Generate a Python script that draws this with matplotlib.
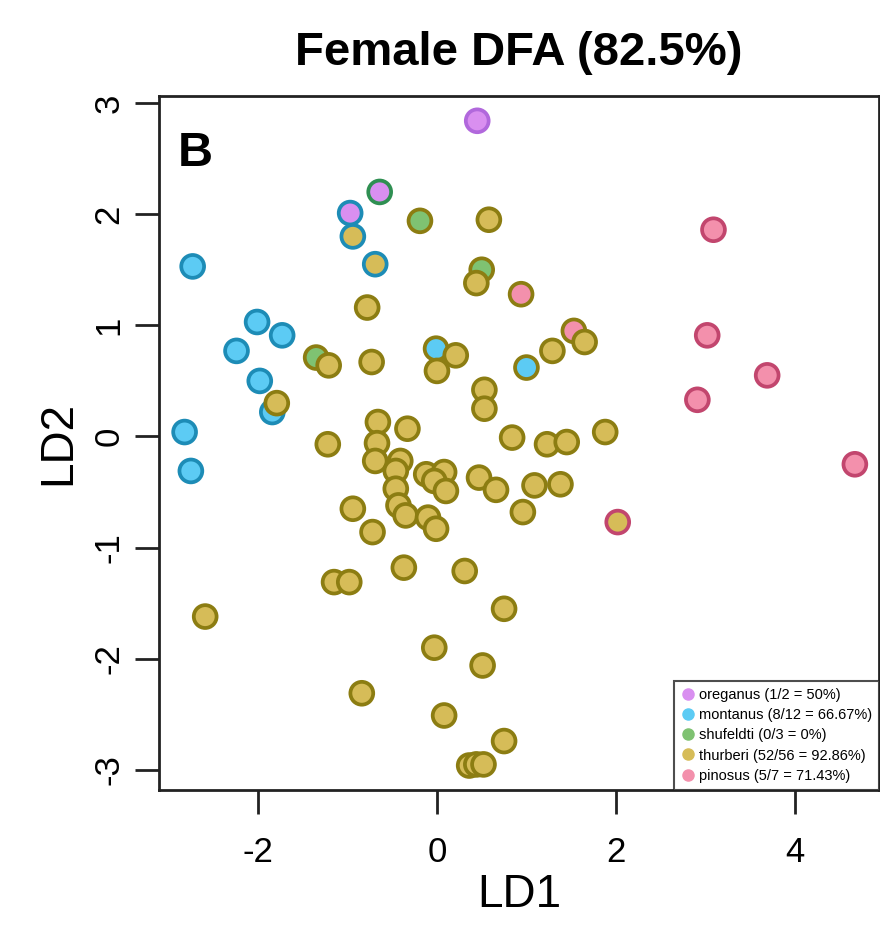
import matplotlib.pyplot as plt
from matplotlib.lines import Line2D

plt.rcParams['font.family'] = ['Liberation Sans', 'DejaVu Sans']
plt.rcParams['axes.unicode_minus'] = False

# species codes and colours (edge = predicted, fill = actual)
species = ['oreganus', 'montanus', 'shufeldti', 'thurberi', 'pinosus']
legend_labels = ['oreganus (1/2 = 50%)', 'montanus (8/12 = 66.67%)', 'shufeldti (0/3 = 0%)',
                 'thurberi (52/56 = 92.86%)', 'pinosus (5/7 = 71.43%)']
edge_colors = {'O': '#b168dc', 'M': '#1d8cb6', 'S': '#2f8f52', 'T': '#8c7d12', 'P': '#c2466e'}
fill_colors = {'O': '#d98ff0', 'M': '#5ccbf4', 'S': '#7fc272', 'T': '#d6bc58', 'P': '#f390ac'}

ld1 = [0.45, -2.73, -0.97, -0.94, -0.69, -2.01, -1.73, -2.24, -1.98, -1.84, -2.82, -2.75,
       -0.64, -0.19, -1.35, 0.50,
       3.09, 3.02, 3.69, 2.91, 4.67, 2.02,
       0.94, 1.53, -0.01, 1.00,
       0.58, 0.44, -0.78, -1.21, -0.73, 0.21, 0.00, 0.53, 1.65, 1.29, 0.53, -1.79,
       0.84, 1.23, 1.45, 1.88, 0.47, 0.66, 1.09, 1.38, 0.96,
       -1.22, -0.66, -0.33, -0.67, -0.69, -0.41, -0.46, -0.12, 0.08, -0.46, -0.03, 0.10,
       -0.43, -0.35, -0.10, -0.01,
       -0.94, -0.72, -0.37, 0.31, -1.15, -0.98, -2.59, 0.75, -0.03, 0.51, -0.84, 0.08,
       0.75, 0.36, 0.44, 0.52]
ld2 = [2.84, 1.53, 2.01, 1.80, 1.55, 1.03, 0.91, 0.77, 0.50, 0.22, 0.04, -0.31,
       2.20, 1.94, 0.71, 1.50,
       1.86, 0.91, 0.55, 0.33, -0.25, -0.77,
       1.28, 0.95, 0.79, 0.62,
       1.95, 1.38, 1.16, 0.64, 0.67, 0.73, 0.59, 0.42, 0.85, 0.77, 0.25, 0.30,
       -0.01, -0.07, -0.05, 0.04, -0.37, -0.48, -0.44, -0.43, -0.68,
       -0.07, 0.13, 0.07, -0.06, -0.22, -0.22, -0.31, -0.34, -0.32, -0.47, -0.40, -0.49,
       -0.62, -0.71, -0.73, -0.83,
       -0.65, -0.86, -1.18, -1.21, -1.31, -1.31, -1.62, -1.55, -1.90, -2.06, -2.31, -2.51,
       -2.74, -2.96, -2.95, -2.95]
actual = ['O', 'M', 'O', 'T', 'T', 'M', 'M', 'M', 'M', 'M', 'M', 'M',
          'O', 'S', 'S', 'S',
          'P', 'P', 'P', 'P', 'P', 'T',
          'P', 'P', 'M', 'M'] + ['T'] * 53
predicted = ['O', 'M', 'M', 'M', 'M', 'M', 'M', 'M', 'M', 'M', 'M', 'M',
             'S', 'T', 'T', 'T',
             'P', 'P', 'P', 'P', 'P', 'P',
             'T', 'T', 'T', 'T'] + ['T'] * 53

fig = plt.figure(figsize=(8.8, 9.33), dpi=100)
ax = fig.add_axes([0.1807, 0.1533, 0.8182, 0.7438])

ax.scatter(ld1, ld2, s=270,
           c=[fill_colors[a] for a in actual],
           edgecolors=[edge_colors[p] for p in predicted],
           linewidths=2.7, zorder=3)

ax.set_xlim(-3.106, 4.94)
ax.set_ylim(-3.18, 3.063)
ax.set_xticks([-2, 0, 2, 4])
ax.set_yticks([-3, -2, -1, 0, 1, 2, 3])
ax.tick_params(axis='both', length=17, width=2, labelsize=25, color='#222222')
ax.tick_params(axis='x', pad=16)
ax.tick_params(axis='y', pad=7)
for lab in ax.get_yticklabels():
    lab.set_rotation(90)
    lab.set_va('center')
for sp in ax.spines.values():
    sp.set_linewidth(2)
    sp.set_color('#222222')

ax.set_xlabel('LD1', fontsize=33, labelpad=3)
ax.set_ylabel('LD2', fontsize=33, labelpad=9)
ax.set_title('Female DFA (82.5%)', fontsize=34, fontweight='bold', pad=22)
ax.text(0.026, 0.95, 'B', transform=ax.transAxes, fontsize=35, fontweight='bold',
        va='top', ha='left')

codes = ['O', 'M', 'S', 'T', 'P']
handles = [Line2D([], [], marker='o', linestyle='none', markersize=8,
                  markerfacecolor=fill_colors[c], markeredgecolor=fill_colors[c])
           for c in codes]
leg = ax.legend(handles, legend_labels, loc='lower right', bbox_to_anchor=(1.0, 0.0),
                borderaxespad=0, fontsize=10.5, frameon=True, fancybox=False,
                handletextpad=0.2, labelspacing=0.42, borderpad=0.5, handlelength=1.0)
leg.get_frame().set_edgecolor('#222222')
leg.get_frame().set_linewidth(1.5)

fig.savefig('out.png', dpi=100)
